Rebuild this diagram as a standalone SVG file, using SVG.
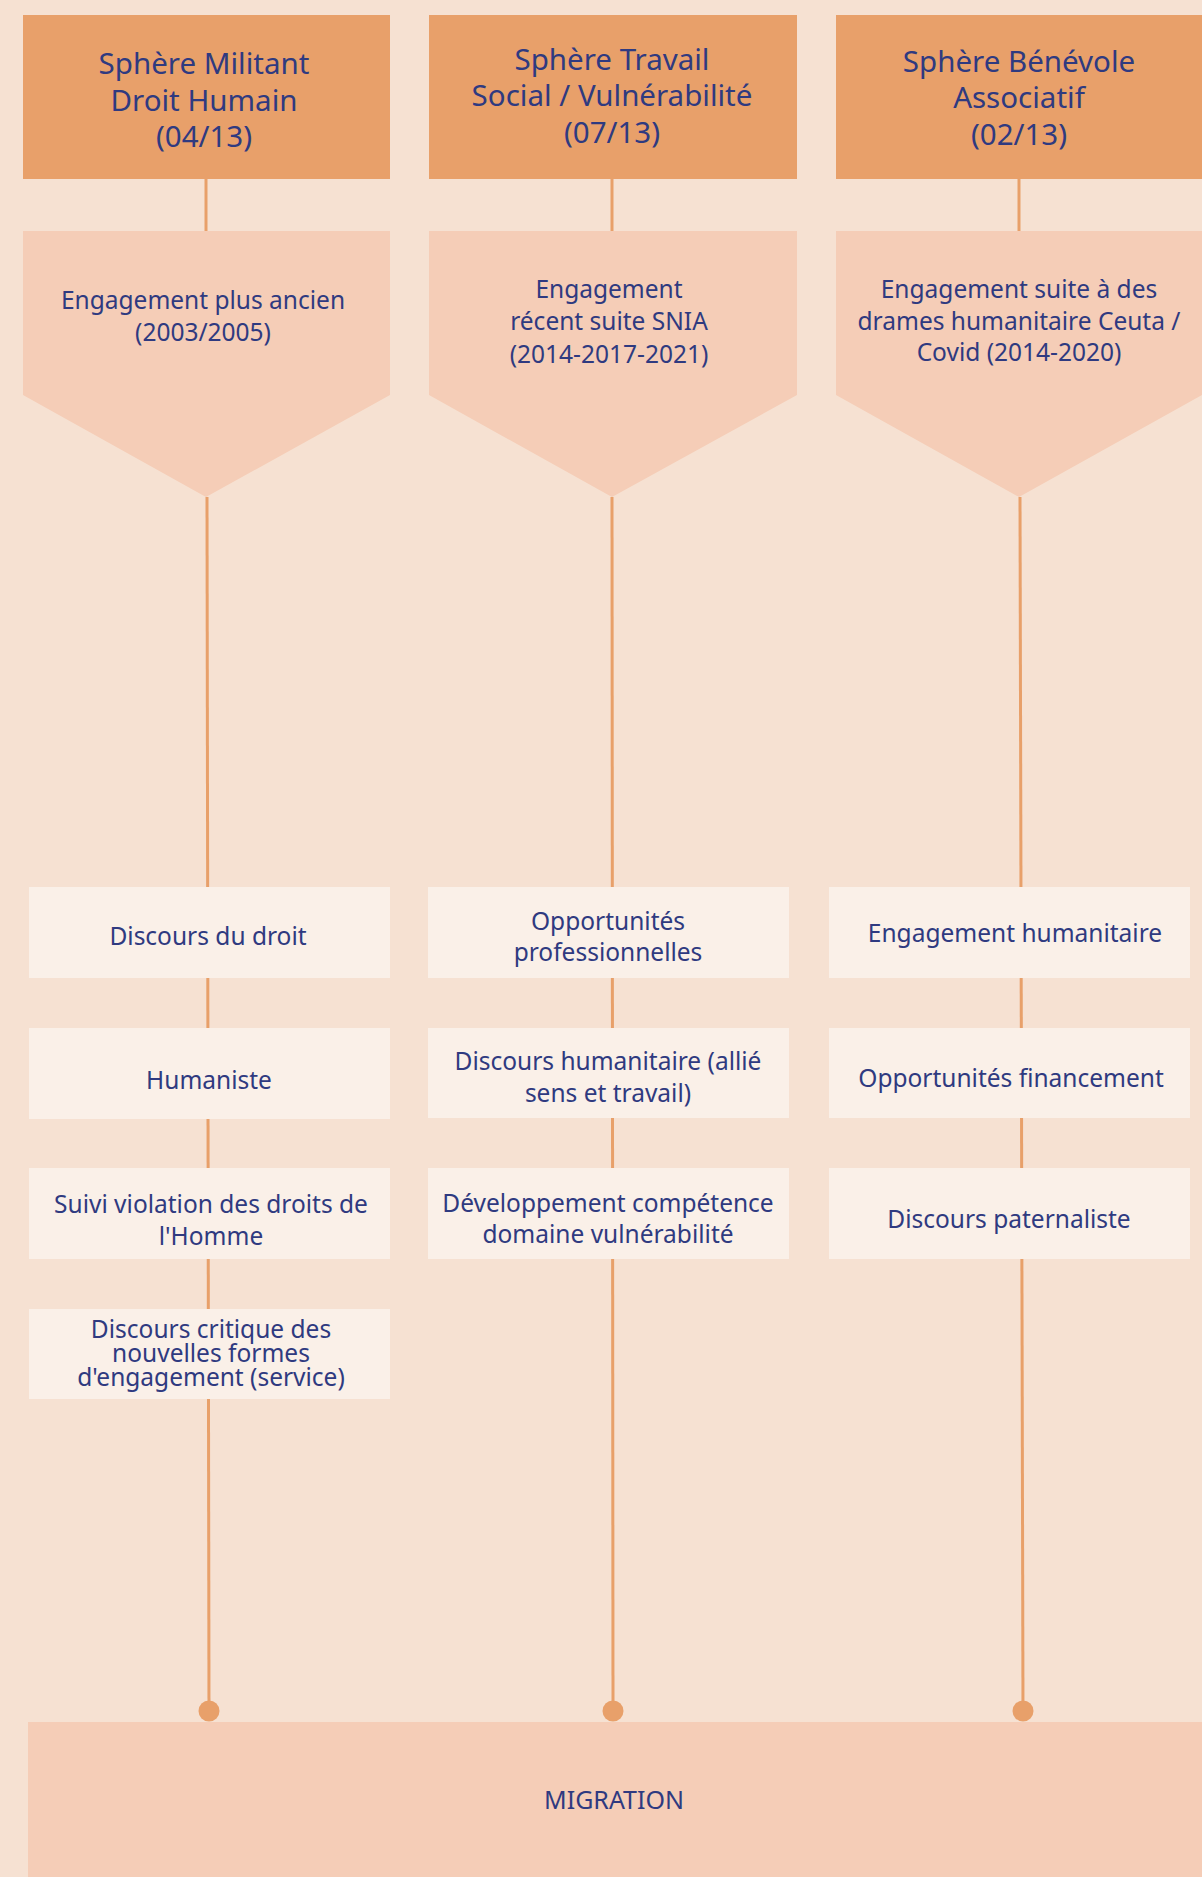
<svg xmlns="http://www.w3.org/2000/svg" width="1202" height="1877" viewBox="0 0 1202 1877">
<style>
.t{font-family:"Noto Sans","Open Sans","Liberation Sans",sans-serif;fill:#2F3A80;text-anchor:middle}
.h{font-size:29.5px}
.c{font-size:24.5px}
.s{font-size:24.5px}
.m{font-size:25px}
.hdr{fill:#E8A06A}
.chev{fill:#F5CDB7}
.box{fill:#FAF0E8}
.ln{stroke:#E8A06A;stroke-width:3;fill:none}
.dot{fill:#E8A06A}
</style>
<rect width="1202" height="1877" fill="#F6E1D2"/>
<g id="connectors">
<line class="ln" x1="206" y1="179" x2="206" y2="231"/>
<line class="ln" x1="612" y1="179" x2="612" y2="231"/>
<line class="ln" x1="1019" y1="179" x2="1019" y2="231"/>
<line class="ln" x1="207" y1="497" x2="209" y2="1711"/>
<line class="ln" x1="612" y1="497" x2="613" y2="1711"/>
<line class="ln" x1="1020" y1="497" x2="1023" y2="1711"/>
<circle class="dot" cx="209" cy="1711" r="10.5"/>
<circle class="dot" cx="613" cy="1711" r="10.5"/>
<circle class="dot" cx="1023" cy="1711" r="10.5"/>
</g>
<g id="h1"><rect class="hdr" x="23" y="15" width="367" height="164"/>
<text class="t h"><tspan x="204" y="74">Sphère Militant</tspan><tspan x="204" y="111">Droit Humain</tspan><tspan x="204" y="147">(04/13)</tspan></text></g>
<g id="h2"><rect class="hdr" x="429" y="15" width="368" height="164"/>
<text class="t h"><tspan x="612" y="70">Sphère Travail</tspan><tspan x="612" y="106">Social / Vulnérabilité</tspan><tspan x="612" y="143">(07/13)</tspan></text></g>
<g id="h3"><rect class="hdr" x="836" y="15" width="366" height="164"/>
<text class="t h"><tspan x="1019" y="72">Sphère Bénévole</tspan><tspan x="1019" y="108">Associatif</tspan><tspan x="1019" y="145">(02/13)</tspan></text></g>
<g id="c1"><polygon class="chev" points="23,231 390,231 390,395 206,497 23,395"/>
<text class="t c"><tspan x="203" y="309">Engagement plus ancien</tspan><tspan x="203" y="341">(2003/2005)</tspan></text></g>
<g id="c2"><polygon class="chev" points="429,231 797,231 797,395 612,497 429,395"/>
<text class="t c"><tspan x="609" y="298">Engagement</tspan><tspan x="609" y="330">récent suite SNIA</tspan><tspan x="609" y="363">(2014-2017-2021)</tspan></text></g>
<g id="c3"><polygon class="chev" points="836,231 1202,231 1202,395 1019,497 836,395"/>
<text class="t c"><tspan x="1019" y="298">Engagement suite à des</tspan><tspan x="1019" y="330">drames humanitaire Ceuta /</tspan><tspan x="1019" y="361">Covid (2014-2020)</tspan></text></g>
<g id="b11"><rect class="box" x="29" y="887" width="361" height="91"/><text class="t s" x="208" y="945">Discours du droit</text></g>
<g id="b12"><rect class="box" x="29" y="1028" width="361" height="91"/><text class="t s" x="209" y="1089">Humaniste</text></g>
<g id="b13"><rect class="box" x="29" y="1168" width="361" height="91"/><text class="t s"><tspan x="211" y="1213">Suivi violation des droits de</tspan><tspan x="211" y="1245">l'Homme</tspan></text></g>
<g id="b14"><rect class="box" x="29" y="1309" width="361" height="90"/><text class="t s"><tspan x="211" y="1338">Discours critique des</tspan><tspan x="211" y="1362">nouvelles formes</tspan><tspan x="211" y="1386">d'engagement (service)</tspan></text></g>
<g id="b21"><rect class="box" x="428" y="887" width="361" height="91"/><text class="t s"><tspan x="608" y="930">Opportunités</tspan><tspan x="608" y="961">professionnelles</tspan></text></g>
<g id="b22"><rect class="box" x="428" y="1028" width="361" height="90"/><text class="t s"><tspan x="608" y="1070">Discours humanitaire (allié</tspan><tspan x="608" y="1102">sens et travail)</tspan></text></g>
<g id="b23"><rect class="box" x="428" y="1168" width="361" height="91"/><text class="t s"><tspan x="608" y="1212">Développement compétence</tspan><tspan x="608" y="1243">domaine vulnérabilité</tspan></text></g>
<g id="b31"><rect class="box" x="829" y="887" width="361" height="91"/><text class="t s" x="1015" y="942">Engagement humanitaire</text></g>
<g id="b32"><rect class="box" x="829" y="1028" width="361" height="90"/><text class="t s" x="1011" y="1087">Opportunités financement</text></g>
<g id="b33"><rect class="box" x="829" y="1168" width="361" height="91"/><text class="t s" x="1009" y="1228">Discours paternaliste</text></g>
<g id="migration"><rect class="chev" x="28" y="1722" width="1174" height="155"/><text class="t m" x="614" y="1809">MIGRATION</text></g>
</svg>
